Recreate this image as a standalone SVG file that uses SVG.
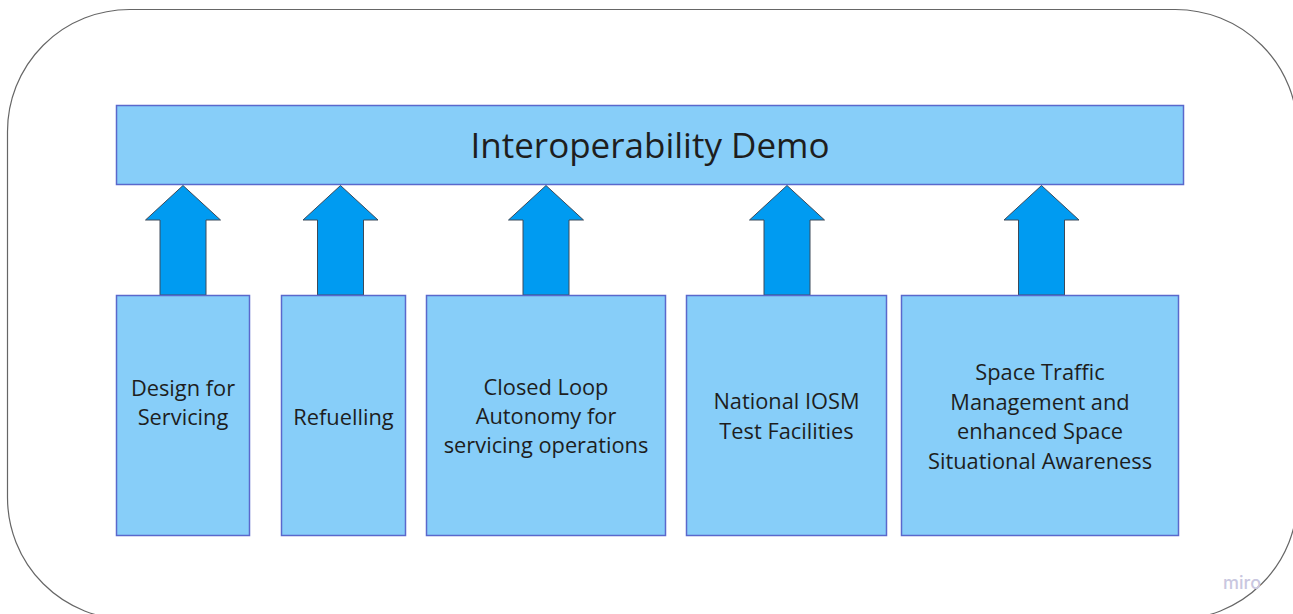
<svg xmlns="http://www.w3.org/2000/svg" width="1293" height="614" viewBox="0 0 1293 614">
<style>
.box{fill:#87CEF9;stroke:#5A68CC;stroke-width:1.5}
.arrow{fill:#009BF1;stroke:#3c4a5a;stroke-width:1;stroke-linejoin:miter}
.t{font-family:"Open Sans","Noto Sans","Liberation Sans",sans-serif;fill:#1e1e1e;text-anchor:middle}
.s{font-size:21.8px}
</style>
<rect x="0" y="0" width="1293" height="614" fill="#ffffff"/>
<rect x="7.5" y="9.5" width="1290" height="610" rx="122" ry="122" fill="none" stroke="#666" stroke-width="1.2"/>
<g id="title">
<rect class="box" x="116.5" y="105.5" width="1067" height="79"/>
<text class="t" x="650" y="158" font-size="35px">Interoperability Demo</text>
</g>
<g id="connectors">
<path class="arrow" d="M183 185.5 L220.5 220 L206 220 L206 295 L160 295 L160 220 L145.5 220 Z"/>
<path class="arrow" d="M340.5 185.5 L378 220 L363.5 220 L363.5 295 L317.5 295 L317.5 220 L303 220 Z"/>
<path class="arrow" d="M546 185.5 L583.5 220 L569 220 L569 295 L523 295 L523 220 L508.5 220 Z"/>
<path class="arrow" d="M787 185.5 L824.5 220 L810 220 L810 295 L764 295 L764 220 L749.5 220 Z"/>
<path class="arrow" d="M1041.5 185.5 L1079 220 L1064.5 220 L1064.5 295 L1018.5 295 L1018.5 220 L1004 220 Z"/>
</g>
<g id="n1">
<rect class="box" x="116.5" y="295.5" width="133" height="240"/>
<text class="t s" x="183" y="396">Design for</text>
<text class="t s" x="183" y="425">Servicing</text>
</g>
<g id="n2">
<rect class="box" x="281.5" y="295.5" width="124" height="240"/>
<text class="t s" x="343.5" y="425">Refuelling</text>
</g>
<g id="n3">
<rect class="box" x="426.5" y="295.5" width="239" height="240"/>
<text class="t s" x="546" y="395">Closed Loop</text>
<text class="t s" x="546" y="424">Autonomy for</text>
<text class="t s" x="546" y="453">servicing operations</text>
</g>
<g id="n4">
<rect class="box" x="686.5" y="295.5" width="200" height="240"/>
<text class="t s" x="786.5" y="409">National IOSM</text>
<text class="t s" x="786.5" y="439">Test Facilities</text>
</g>
<g id="n5">
<rect class="box" x="901.5" y="295.5" width="277" height="240"/>
<text class="t s" x="1040" y="380">Space Traffic</text>
<text class="t s" x="1040" y="410">Management and</text>
<text class="t s" x="1040" y="439">enhanced Space</text>
<text class="t s" x="1040" y="469">Situational Awareness</text>
</g>
<g id="watermark">
<text x="1242" y="589" font-family="Inter,'Open Sans',sans-serif" font-size="18" font-weight="500" fill="#c9c7e0" text-anchor="middle">miro</text>
</g>
</svg>
